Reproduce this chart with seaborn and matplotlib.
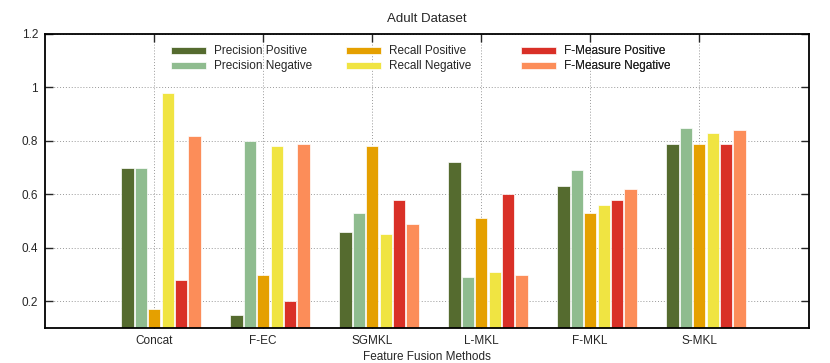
import pandas as pd
import matplotlib
matplotlib.use("Agg")
import matplotlib.pyplot as plt
import seaborn as sns

# Values
methods = ["Concat", "F-EC", "SGMKL", "L-MKL", "F-MKL", "S-MKL"]
series = ["Precision Positive", "Precision Negative", "Recall Positive",
          "Recall Negative", "F-Measure Positive", "F-Measure Negative"]
precision_pos = [0.70, 0.15, 0.46, 0.72, 0.63, 0.79]
precision_neg = [0.70, 0.80, 0.53, 0.29, 0.69, 0.85]
recall_pos = [0.17, 0.30, 0.78, 0.51, 0.53, 0.79]
recall_neg = [0.98, 0.78, 0.45, 0.31, 0.56, 0.83]
fmeasure_pos = [0.28, 0.20, 0.58, 0.60, 0.58, 0.79]
fmeasure_neg = [0.82, 0.79, 0.49, 0.30, 0.62, 0.84]
colors = ["#556b2f", "#8fbc8f", "#e5a000", "#f0e442", "#d93027", "#fc8d59"]

values = [precision_pos, precision_neg, recall_pos, recall_neg, fmeasure_pos, fmeasure_neg]
rows = []
for name, vals in zip(series, values):
    for m, v in zip(methods, vals):
        rows.append({"Method": m, "Metric": name, "Score": v})
df = pd.DataFrame(rows)

sns.set_style("white")
plt.rcParams["font.family"] = ["Liberation Sans", "DejaVu Sans"]
plt.rcParams["font.size"] = 9

fig = plt.figure(figsize=(8.3, 3.63), dpi=100)
ax = fig.add_axes([45 / 830, 1 - 328 / 363, 764 / 830, 294 / 363])

sns.barplot(data=df, x="Method", y="Score", hue="Metric", order=methods,
            hue_order=series, palette=colors, saturation=1, width=0.74, gap=0.08,
            edgecolor="white", linewidth=0.5, ax=ax, legend=False, zorder=3)

# axis ranges and ticks (gnuplot style: labels sit slightly left of cluster centre)
ax.set_xlim(-1.064, 5.945)
ax.set_ylim(0.1, 1.2)
xt = [i - 0.064 for i in range(len(methods))]
ax.set_xticks(xt)
ax.set_xticklabels(methods)
yt = [0.2, 0.4, 0.6, 0.8, 1.0, 1.2]
ax.set_yticks(yt)
ax.set_yticklabels(["0.2", "0.4", "0.6", "0.8", "1", "1.2"])
ax.tick_params(direction="in", length=6, width=1, top=True, right=True,
               bottom=True, left=True, labelsize=8.5, pad=5)
ax.grid(True, color="#999999", linestyle=(0, (1, 2)), linewidth=0.7, zorder=0)
ax.set_axisbelow(True)
for s in ax.spines.values():
    s.set_linewidth(1.3)
    s.set_color("black")
    s.set_zorder(5)

ax.set_title("Adult Dataset", fontsize=9.5, pad=9)
ax.set_xlabel("Feature Fusion Methods", fontsize=8.5, labelpad=3)
ax.set_ylabel("")

# legend: three fixed columns like the original
handles = [plt.Rectangle((0, 0), 1, 1, facecolor=c, edgecolor="white", linewidth=0.5)
           for c in colors]
col_x = [(171 - 45) / 764, (346 - 45) / 764, (521 - 45) / 764]
for k in range(3):
    leg = ax.legend(handles[2 * k:2 * k + 2], series[2 * k:2 * k + 2],
                    loc="upper left", bbox_to_anchor=(col_x[k], 0.961),
                    frameon=False, borderpad=0, borderaxespad=0,
                    handlelength=3.0, handleheight=0.6, handletextpad=0.6,
                    labelspacing=0.25, fontsize=8.5)
    ax.add_artist(leg)

fig.savefig("out.png", dpi=100)
